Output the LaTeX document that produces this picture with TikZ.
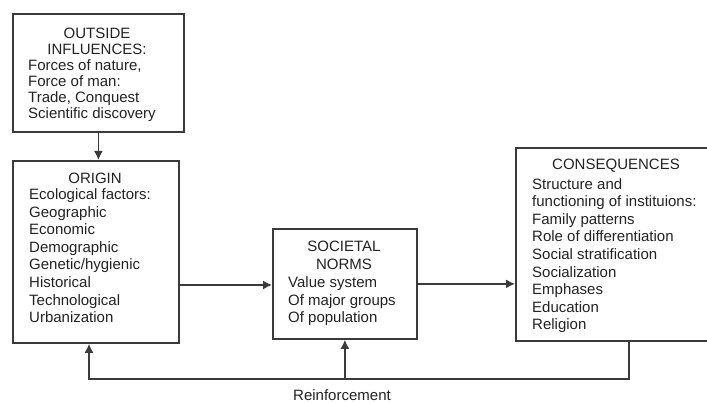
\documentclass[tikz,border=0pt]{standalone}
\usepackage{fontspec}
\setmainfont{Liberation Sans}
\usetikzlibrary{arrows.meta}
\definecolor{linec}{HTML}{3A3A3A}
\definecolor{textc}{HTML}{222222}
\begin{document}
\begin{tikzpicture}[x=1pt,y=-1pt,
 box/.style={draw=linec, line width=1.8pt, inner sep=0pt, anchor=north west},
 hdr/.style={inner sep=0pt, anchor=north, align=center, text=textc},
 txt/.style={inner sep=0pt, anchor=north west, align=left, text=textc},
 fA/.style={font=\fontsize{15}{16.3}\selectfont},
 fB/.style={font=\fontsize{15}{17.6}\selectfont},
 conn/.style={draw=linec, line width=1.5pt},
 arr/.style={conn, -{Latex[length=9pt,width=9pt]}}]
\useasboundingbox (0,0) rectangle (707,403);
% boxes
\node[box, minimum width=171pt, minimum height=118pt] (outside) at (12,13) {};
\node[box, minimum width=166pt, minimum height=182pt] (origin) at (12,160) {};
\node[box, minimum width=144pt, minimum height=110pt] (societal) at (272,228) {};
\node[box, minimum width=210pt, minimum height=193pt] (cons) at (515,147) {};
% texts
\node[hdr, fA] (outsideh) at (97,27.5) {OUTSIDE\\INFLUENCES:};
\node[txt, fA] (outsideb) at (28,59) {Forces of nature,\\Force of man:\\Trade, Conquest\\Scientific discovery};
\node[hdr, fB] (originh) at (95,172.5) {ORIGIN};
\node[txt, fB] (originb) at (29,188.5) {Ecological factors:\\Geographic\\Economic\\Demographic\\Genetic/hygienic\\Historical\\Technological\\Urbanization};
\node[hdr, fB] (societalh) at (344,241) {SOCIETAL\\NORMS};
\node[txt, fB] (societalb) at (288,276.5) {Value system\\Of major groups\\Of population};
\node[hdr, fB] (consh) at (616,159) {CONSEQUENCES};
\node[txt, fB] (consb) at (532,178) {Structure and\\functioning of instituions:\\Family patterns\\Role of differentiation\\Social stratification\\Socialization\\Emphases\\Education\\Religion};
\node[inner sep=0pt, text=textc, fB] (reinf) at (342,395) {Reinforcement};
% connectors
\coordinate (m1) at (0,285);
\coordinate (r) at (629,379);
\coordinate (rl) at (89,0);
\draw[arr] (outside.south) -- (outside.south |- origin.north);
\draw[arr] (origin.east |- m1) -- (societal.west |- m1);
\draw[arr] (societal.east) -- (cons.west |- societal.east);
\draw[arr] (cons.south -| r) -- (r) -- (r -| rl) -- (rl |- origin.south);
\draw[arr] (r -| societal.south) -- (societal.south);
\end{tikzpicture}
\end{document}
